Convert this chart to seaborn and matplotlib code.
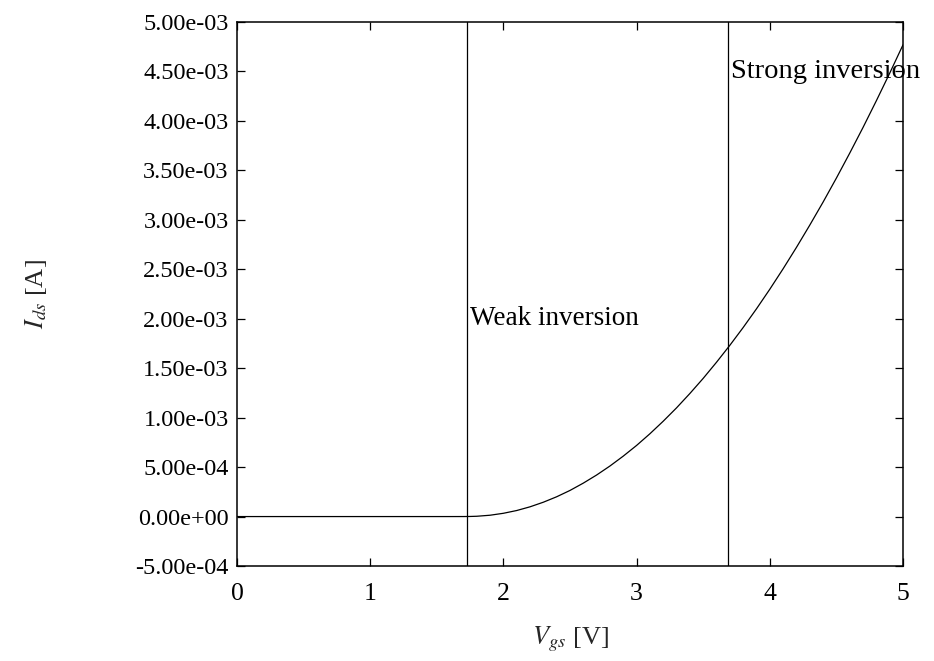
import matplotlib
matplotlib.use("Agg")
import matplotlib.pyplot as plt
import seaborn as sns
import pandas as pd

# Data
vgs = [0.0, 0.5, 1.0, 1.5, 1.6, 1.7, 1.75, 1.8, 1.9, 2.0, 2.1, 2.2, 2.3, 2.4, 2.5, 2.6, 2.7, 2.8,
       2.9, 3.0, 3.1, 3.2, 3.3, 3.4, 3.5, 3.6, 3.7, 3.8, 3.9, 4.0, 4.1, 4.2, 4.3,
       4.4, 4.5, 4.6, 4.7, 4.8, 4.9, 5.0]
ids = [0.0, 0.0, 0.0, 0.0, 0.0, 0.0000002, 0.000001, 0.0000030, 0.0000135, 0.0000330, 0.0000610,
       0.0000985, 0.000145, 0.000200, 0.000264, 0.000338, 0.000420, 0.000511,
       0.000611, 0.000719, 0.000837, 0.000964, 0.001099, 0.001244, 0.001397,
       0.001560, 0.001731, 0.001911, 0.002100, 0.002298, 0.002505, 0.002721,
       0.002946, 0.003179, 0.003422, 0.003674, 0.003934, 0.004204, 0.004482,
       0.004769]
vlines_x = [1.73, 3.69]
labels = ["Weak inversion", "Strong inversion"]
label_y = [0.0020, 0.0045]
yticks = [-5e-4, 0, 5e-4, 1e-3, 1.5e-3, 2e-3, 2.5e-3, 3e-3, 3.5e-3, 4e-3, 4.5e-3, 5e-3]
xticks = [0, 1, 2, 3, 4, 5]

sns.set_style("ticks")
plt.rcParams['font.family'] = ['Liberation Serif', 'DejaVu Serif']
plt.rcParams['mathtext.fontset'] = 'stix'

fig = plt.figure(figsize=(9.34, 6.61), dpi=100)
ax = fig.add_axes([0.2537, 0.1437, 0.7131, 0.8230])

df = pd.DataFrame({"Vgs": vgs, "Ids": ids})
sns.lineplot(data=df, x="Vgs", y="Ids", ax=ax, color="black", linewidth=0.9)

sizes = [19.5, 20.5]
for xv, lab, ly, fs in zip(vlines_x, labels, label_y, sizes):
    ax.axvline(xv, color="black", linewidth=0.9)
    ax.text(xv + 0.02, ly, lab, fontsize=fs, va="center", ha="left", color="black",
            clip_on=False)

ax.set_xlim(0, 5)
ax.set_ylim(-5e-4, 5e-3)
ax.set_xticks(xticks)
ax.set_xticklabels([str(t) for t in xticks])
ax.set_yticks(yticks)
ax.set_yticklabels([f"{t:.2e}" for t in yticks])

ax.tick_params(direction="in", length=6, width=0.9, top=True, right=True,
               labelsize=18.5, colors="black")
ax.tick_params(axis="y", labelsize=17.5, pad=6)
ax.tick_params(axis="x", pad=12)
for s in ax.spines.values():
    s.set_linewidth(1.1)
    s.set_color("black")
    s.set_visible(True)

ax.set_xlabel("$V_{gs}$ [V]", fontsize=19, labelpad=14)
ax.set_ylabel("$I_{ds}$ [A]", fontsize=19, labelpad=62)
ax.grid(False)

fig.savefig("out.png", dpi=100)
